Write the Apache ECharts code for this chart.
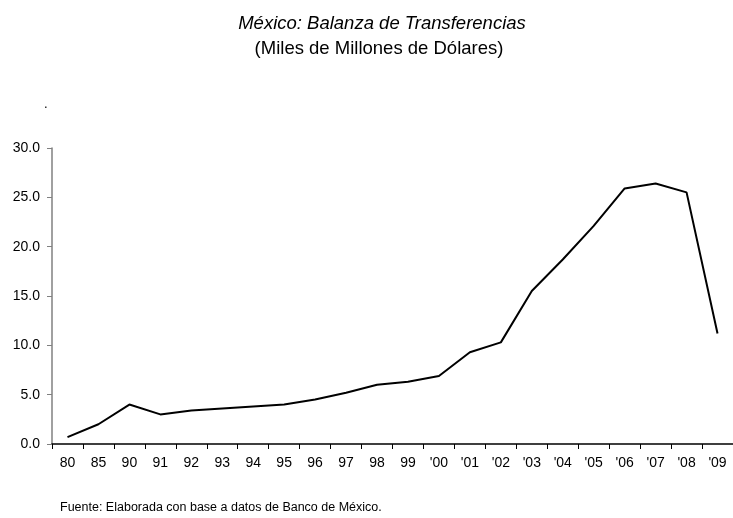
<!DOCTYPE html>
<html>
<head>
<meta charset="utf-8">
<script src="https://cdn.jsdelivr.net/npm/echarts@6/dist/echarts.min.js"></script>
<style>html,body{margin:0;padding:0;background:#fff;}#c{width:733px;height:518px;}</style>
</head>
<body>
<div id="c"></div>
<script>
var categories = ["80","85","90","91","92","93","94","95","96","97","98","99","'00","'01","'02","'03","'04","'05","'06","'07","'08","'09"];
var transferencias = [0.7, 2.0, 4.0, 3.0, 3.4, 3.6, 3.8, 4.0, 4.5, 5.2, 6.0, 6.3, 6.9, 9.3, 10.3, 15.5, 18.7, 22.1, 25.9, 26.4, 25.5, 11.2];
var yTicks = {min: 0, max: 30, interval: 5};
var titleText = "México: Balanza de Transferencias";
var subtitleText = "(Miles de Millones de Dólares)";
var sourceText = "Fuente: Elaborada con base a datos de Banco de México.";

var font = "'Liberation Sans', Arial, sans-serif";
var chart = echarts.init(document.getElementById('c'), null, {renderer: 'canvas'});
chart.setOption({
  animation: false,
  backgroundColor: '#ffffff',
  title: [
    {text: titleText, left: 377, top: 9, textAlign: 'center',
     textStyle: {fontFamily: font, fontStyle: 'italic', fontWeight: 'normal', fontSize: 18.5, color: '#000'}},
    {text: subtitleText, left: 374, top: 34, textAlign: 'center',
     textStyle: {fontFamily: font, fontWeight: 'normal', fontSize: 18.5, color: '#000'}},
    {text: sourceText, left: 55, top: 496,
     textStyle: {fontFamily: font, fontWeight: 'normal', fontSize: 12.5, color: '#000'}},
    {text: '.', left: 39, top: 93,
     textStyle: {fontFamily: font, fontWeight: 'normal', fontSize: 13, color: '#000'}}
  ],
  grid: {left: 52, top: 148, width: 684, height: 296, containLabel: false},
  xAxis: {
    type: 'category',
    data: categories,
    boundaryGap: true,
    axisLine: {lineStyle: {color: '#000', width: 1.5}},
    axisTick: {show: true, inside: false, length: 5, alignWithLabel: false, lineStyle: {color: '#000', width: 1}},
    axisLabel: {interval: 0, margin: 12, fontFamily: font, fontSize: 14, color: '#000'},
    splitLine: {show: false}
  },
  yAxis: {
    type: 'value',
    min: yTicks.min, max: yTicks.max, interval: yTicks.interval,
    axisLine: {show: true, lineStyle: {color: '#808080', width: 1.5}},
    axisTick: {show: true, inside: false, length: 5, lineStyle: {color: '#808080', width: 1}},
    axisLabel: {margin: 12, fontFamily: font, fontSize: 14, color: '#000',
                formatter: function (v) { return v.toFixed(1); }},
    splitLine: {show: false}
  },
  series: [{
    type: 'line',
    data: transferencias,
    showSymbol: false,
    symbol: 'none',
    lineStyle: {color: '#000', width: 2},
    silent: true
  }]
});
</script>
</body>
</html>
